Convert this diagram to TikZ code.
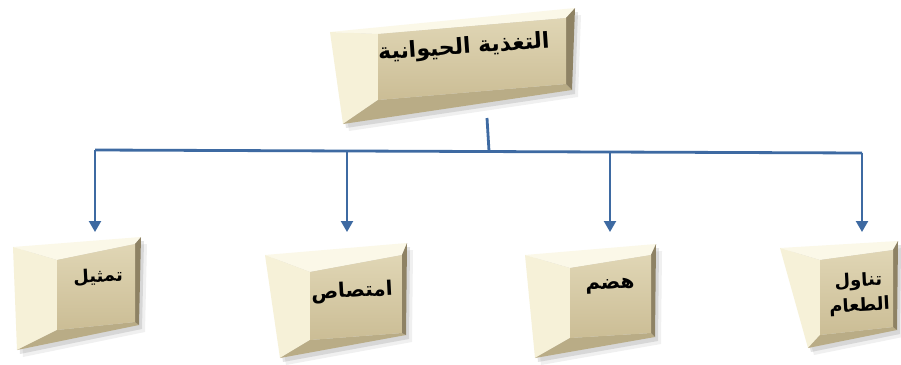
\documentclass[tikz,border=0pt]{standalone}
\usepackage{fontspec}
\usetikzlibrary{arrows.meta,calc}
\TeXXeTstate=1
\newfontfamily\arabicfont[Script=Arabic]{DejaVu Sans}
\definecolor{cTop}{HTML}{FBF8E8}
\definecolor{cLeft}{HTML}{F6F1D8}
\definecolor{cBottom}{HTML}{B9AC86}
\definecolor{cRight}{HTML}{8E8264}
\definecolor{faceA}{HTML}{E0D6B5}
\definecolor{faceB}{HTML}{CBBD95}
\definecolor{lineblue}{HTML}{3E6AA2}
\newcommand{\bevbox}[8]{%
  \fill[black,opacity=.10,xshift=3pt,yshift=-4pt] (#1) -- (#2) -- (#3) -- (#4) -- cycle;
  \fill[black,opacity=.06,xshift=6pt,yshift=-7pt] (#1) -- (#2) -- (#3) -- (#4) -- cycle;
  \fill[cTop] (#1) -- (#2) -- (#6) -- (#5) -- cycle;
  \fill[cLeft] (#1) -- (#5) -- (#8) -- (#4) -- cycle;
  \fill[cBottom] (#4) -- (#8) -- (#7) -- (#3) -- cycle;
  \fill[cRight] (#2) -- (#3) -- (#7) -- (#6) -- cycle;
  \shade[top color=faceA, bottom color=faceB] (#5) -- (#6) -- (#7) -- (#8) -- cycle;
}
\tikzset{
  lbl/.style={font=\arabicfont\bfseries\fontsize{20}{23}\selectfont, text=black, inner sep=0pt, align=center},
  smlbl/.style={lbl, font=\arabicfont\bfseries\fontsize{18}{20}\selectfont},
  toplbl/.style={lbl, font=\arabicfont\bfseries\fontsize{22}{25}\selectfont},
  bus/.style={draw=lineblue, line width=2.8pt},
  arr/.style={draw=lineblue, line width=2.2pt, -{Triangle[length=11pt,width=12pt]}}
}
\begin{document}
\begin{tikzpicture}[x=1pt,y=-1pt]
\useasboundingbox (0,0) rectangle (901,364);
\fill[white] (0,0) rectangle (901,364);
% top box
\bevbox{330,32}{575,8}{572,90}{343,124}{378,34}{566,18}{566,84}{378,100}
\node[toplbl, rotate=4] (root) at (464,48) {\beginR التغذية الحيوانية\endR};
% bottom boxes
\bevbox{13,247}{141,237}{139,325}{17,350}{57,260}{135,244}{135,322}{57,330}
\node[smlbl, rotate=3] (n1) at (98,277) {\beginR تمثيل\endR};
\bevbox{265,255}{407,243}{406,335}{280,358}{310,272}{402,255}{402,333}{310,340}
\node[lbl, rotate=3] (n2) at (352,292) {\beginR امتصاص\endR};
\bevbox{525,255}{656,244}{655,337}{535,358}{570,268}{651,255}{651,333}{570,338}
\node[lbl, rotate=3] (n3) at (610,286) {\beginR هضم\endR};
\bevbox{780,248}{898,241}{897,330}{808,348}{820,260}{893,250}{893,327}{820,335}
\node[smlbl, rotate=3] (n4) at (859,294) {\beginR تناول\endR\\[5pt]\beginR الطعام\endR};
% connectors
\coordinate (rootb) at (487,118);
\coordinate (hub) at (489,151);
\coordinate (j1) at (95,150);
\coordinate (j2) at (347,151);
\coordinate (j3) at (610,152);
\coordinate (j4) at (862,153);
\coordinate (t1) at (95,232);
\coordinate (t2) at (347,232);
\coordinate (t3) at (610,232);
\coordinate (t4) at (862,232);
\draw[bus] (rootb) -- (hub);
\draw[bus] (j1) -- (j4);
\draw[arr] (j1) -- (t1);
\draw[arr] (j2) -- (t2);
\draw[arr] (j3) -- (t3);
\draw[arr] (j4) -- (t4);
\end{tikzpicture}
\end{document}
